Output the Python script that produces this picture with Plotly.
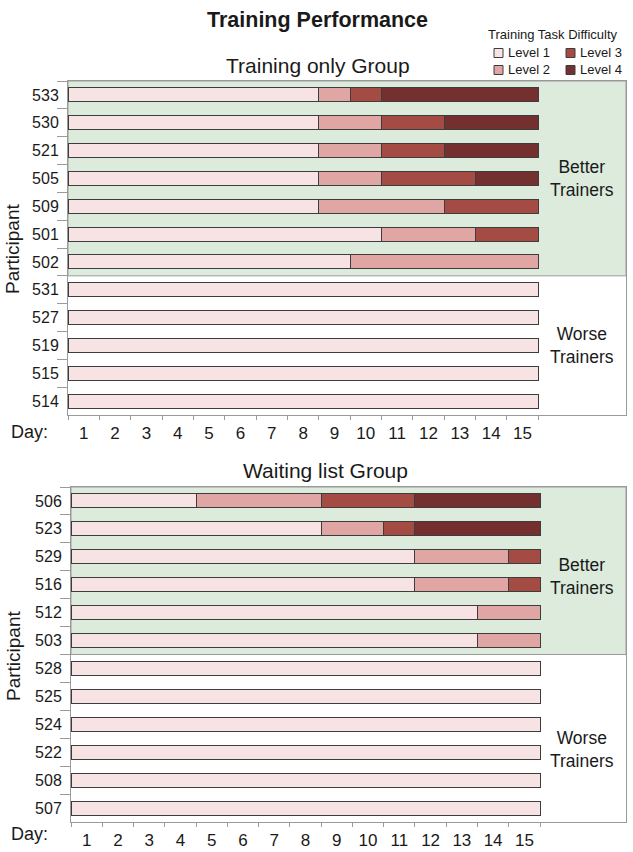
import plotly.graph_objects as go

W, H = 633, 852

# ---------------- data ----------------
LEVELS = ["Level 1", "Level 2", "Level 3", "Level 4"]
LEVEL_COLORS = ["#F7E3E3", "#DFA6A3", "#A44B43", "#73302E"]
DAY_LABELS = [str(d) for d in range(1, 16)]

train_ids = ["533", "530", "521", "505", "509", "501", "502", "531", "527", "519", "515", "514"]
train_l1 = [8, 8, 8, 8, 8, 10, 9, 15, 15, 15, 15, 15]
train_l2 = [1, 2, 2, 2, 4, 3, 6, 0, 0, 0, 0, 0]
train_l3 = [1, 2, 2, 3, 3, 2, 0, 0, 0, 0, 0, 0]
train_l4 = [5, 3, 3, 2, 0, 0, 0, 0, 0, 0, 0, 0]
train_n_better = 7

wait_ids = ["506", "523", "529", "516", "512", "503", "528", "525", "524", "522", "508", "507"]
wait_l1 = [4, 8, 11, 11, 13, 13, 15, 15, 15, 15, 15, 15]
wait_l2 = [4, 2, 3, 3, 2, 2, 0, 0, 0, 0, 0, 0]
wait_l3 = [3, 1, 1, 1, 0, 0, 0, 0, 0, 0, 0, 0]
wait_l4 = [4, 4, 0, 0, 0, 0, 0, 0, 0, 0, 0, 0]
wait_n_better = 6

FONT = "Liberation Sans, Arial, sans-serif"
FRAME = "#9a9a9a"
GREEN = "#DCEBDC"
BAR_LINE = "#3d3d3d"
TXT = "#1a1a1a"


def px(x):
    return x / W


def py(y):
    return 1 - y / H


fig = go.Figure()

# (x axis, y axis, ids, levels, n better, label x, better centre, worse centre)
groups = [
    ("x", "y", train_ids, [train_l1, train_l2, train_l3, train_l4], train_n_better,
     16.4, 3.0, 9.0),
    ("x2", "y2", wait_ids, [wait_l1, wait_l2, wait_l3, wait_l4], wait_n_better,
     16.33, 2.7, 8.9),
]

for xa, ya, ids, levels, nb, *_ in groups:
    for name, color, vals in zip(LEVELS, LEVEL_COLORS, levels):
        fig.add_trace(go.Bar(
            y=ids, x=[v if v > 0 else None for v in vals], orientation="h",
            name=name, width=0.5, showlegend=False,
            marker=dict(color=color, line=dict(color=BAR_LINE, width=1)),
            xaxis=xa, yaxis=ya, hoverinfo="y+x+name",
        ))

common_x = dict(
    tickmode="array", tickvals=[i + 0.5 for i in range(15)], ticktext=DAY_LABELS,
    ticks="", showline=True, mirror=True, linecolor=FRAME, linewidth=1,
    showgrid=False, zeroline=False, automargin=False,
    tickfont=dict(family=FONT, size=17, color=TXT),
    ticklabelstandoff=3,
    minor=dict(tickmode="array", tickvals=list(range(16)), ticks="outside",
               ticklen=4, tickcolor=FRAME, tickwidth=1),
    fixedrange=True,
)


def y_axis(ids, domain, anchor):
    return dict(
        type="category", categoryorder="array", categoryarray=ids,
        range=[len(ids) - 0.5, -0.5], domain=domain, anchor=anchor,
        tickson="boundaries", ticks="outside", ticklen=10, tickcolor=FRAME,
        showline=True, mirror=True, linecolor=FRAME, linewidth=1,
        showgrid=False, zeroline=False, automargin=False,
        tickfont=dict(family=FONT, size=16, color=TXT),
        ticklabelstandoff=5,
        fixedrange=True,
    )


fig.update_layout(
    width=W, height=H,
    margin=dict(l=0, r=0, t=0, b=0),
    paper_bgcolor="white", plot_bgcolor="white",
    barmode="stack", bargap=0.5,
    font=dict(family=FONT, color=TXT),
    xaxis=dict(common_x, domain=[px(68), px(626)], range=[0, 17.8], anchor="y"),
    yaxis=y_axis(train_ids, [py(415), py(81)], "x"),
    xaxis2=dict(common_x, domain=[px(71), px(626)], range=[0, 17.75], anchor="y2"),
    yaxis2=y_axis(wait_ids, [py(822), py(487)], "x2"),
)

shapes = []
annotations = []


def ann(x, y, text, size, xanchor="center", **kw):
    return dict(xref="paper", yref="paper", x=px(x), y=py(y), text=text,
                showarrow=False, xanchor=xanchor, yanchor="middle",
                font=dict(size=size, family=FONT, color=TXT), **kw)


# green "better trainers" regions and side labels
for xa, ya, ids, levels, nb, lx, bc, wc in groups:
    shapes.append(dict(type="rect", xref=f"{xa} domain", yref=ya,
                       x0=0, x1=1, y0=-0.5, y1=nb - 0.5,
                       fillcolor=GREEN, line=dict(color=FRAME, width=1), layer="below"))
    for cy, txt in ((bc, "Better<br>Trainers"), (wc, "Worse<br>Trainers")):
        annotations.append(dict(xref=xa, yref=ya, x=lx, y=cy, xanchor="center",
                                yanchor="middle", text=txt, showarrow=False,
                                font=dict(size=17.5, family=FONT, color=TXT)))

# titles and labels
annotations += [
    ann(317, 20, "<b>Training Performance</b>", 21.5),
    ann(318, 65, "Training only Group", 21),
    ann(326, 470, "Waiting list Group", 21),
    ann(13, 249, "Participant", 19, textangle=-90),
    ann(13, 656, "Participant", 19, textangle=-90),
    ann(30, 432, "Day:", 18),
    ann(30, 834, "Day:", 18),
    ann(553, 35, "Training Task Difficulty", 13),
]

# manual legend (two columns: Level 1 / Level 2 | Level 3 / Level 4)
legend_pos = [(494, 53), (494, 70), (566, 53), (566, 70)]
for name, color, (lx, ly) in zip(LEVELS, LEVEL_COLORS, legend_pos):
    shapes.append(dict(type="rect", xref="paper", yref="paper",
                       x0=px(lx), x1=px(lx + 9), y0=py(ly + 4.5), y1=py(ly - 4.5),
                       fillcolor=color, line=dict(color=BAR_LINE, width=1)))
    annotations.append(ann(lx + 12, ly, name, 13, xanchor="left"))

fig.update_layout(shapes=shapes, annotations=annotations)

fig.write_html("out.html", config={"displayModeBar": False},
               post_script="document.body.style.margin='0';")
